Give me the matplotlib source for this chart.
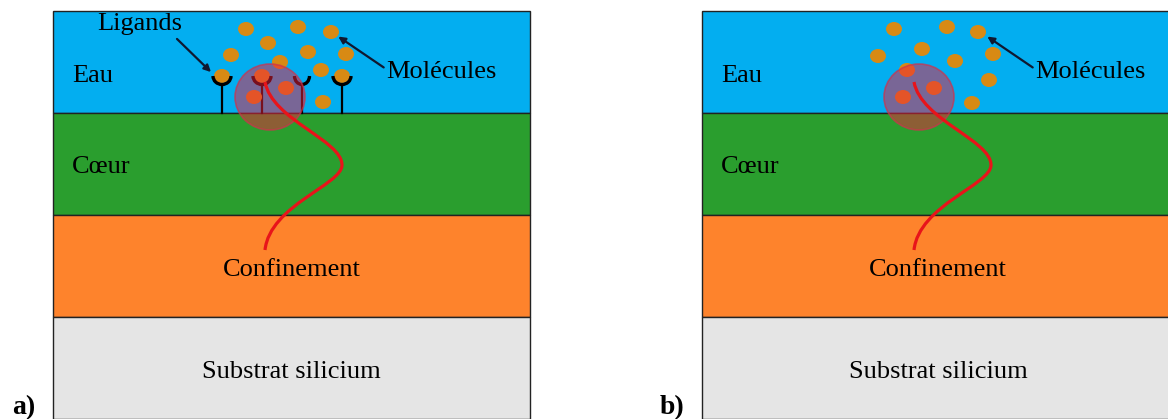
import matplotlib.pyplot as plt
from matplotlib.patches import Rectangle, Ellipse, Arc, PathPatch
from matplotlib.path import Path

# layer stack (top to bottom), pixel rows of the boundaries
layer_names = ["Eau", "Cœur", "Confinement", "Substrat silicium"]
layer_colors = ["#03aef0", "#2a9e2e", "#fe832c", "#e5e5e5"]
layer_edges = [11, 113, 215, 317, 419]

# panels: left, right, label
panels = [(53, 530, "a)"), (702, 1172, "b)")]

# molecules, offsets from the panel left edge
mol_a_x = [193, 245, 278, 215, 255, 293, 178, 227, 268, 233, 201, 270]
mol_a_y = [29, 27, 32, 43, 52, 54, 55, 62, 70, 88, 97, 102]
mol_b_x = [192, 245, 276, 220, 176, 253, 291, 205, 287, 201, 232, 270]
mol_b_y = [29, 27, 32, 49, 56, 61, 54, 70, 80, 97, 88, 103]

# ligands (panel a): cup centres offset from panel edge, bound molecule or not
lig_x = [169, 209, 249, 289]
lig_bound = [True, True, False, True]
cup_y = 77

# probe volume and guided mode profile (offsets from panel edge)
probe_x, probe_y = 217, 97
mode_x = [212, 219, 289, 289, 289, 217, 212]
mode_y = [82, 120, 140, 165, 185, 205, 250]

mol_color = "#d88a14"

fig = plt.figure(figsize=(11.68, 4.19), dpi=100)
ax = fig.add_axes([0, 0, 1, 1])
ax.set_xlim(0, 1168)
ax.set_ylim(419, 0)
ax.axis("off")

serif = "Liberation Serif"
fs = 19

for k, (x0, x1, lab) in enumerate(panels):
    w = x1 - x0
    for i, c in enumerate(layer_colors):
        ax.add_patch(Rectangle((x0, layer_edges[i]), w, layer_edges[i + 1] - layer_edges[i],
                               facecolor=c, edgecolor="#222222", lw=1.0, zorder=1))
    cx = (x0 + 530) / 2 if k == 0 else x0 + 236
    ax.text(x0 + 19, 82, "Eau", family=serif, fontsize=fs, va="baseline", zorder=5)
    ax.text(x0 + 19, 173, "Cœur", family=serif, fontsize=fs, va="baseline", zorder=5)
    ax.text(cx, 276, "Confinement", family=serif, fontsize=fs, ha="center", va="baseline", zorder=5)
    ax.text(cx, 378, "Substrat silicium", family=serif, fontsize=fs, ha="center", va="baseline", zorder=5)
    ax.text(x0 - 18, 414, lab, family=serif, fontsize=20, fontweight="bold", ha="right",
            va="baseline", zorder=5)

    mx = mol_a_x if k == 0 else mol_b_x
    my = mol_a_y if k == 0 else mol_b_y
    for a, b in zip(mx, my):
        ax.add_patch(Ellipse((x0 + a, b), 16, 14, facecolor=mol_color, edgecolor="none", zorder=3))

    if k == 0:
        for lx, bound in zip(lig_x, lig_bound):
            ax.plot([x0 + lx, x0 + lx], [cup_y + 7, 113], color="black", lw=1.6, zorder=2)
            if bound:
                ax.add_patch(Ellipse((x0 + lx, cup_y - 1), 16, 14, facecolor=mol_color,
                                     edgecolor="none", zorder=3))
                ax.add_patch(Arc((x0 + lx, cup_y - 1), 18, 17, theta1=0, theta2=180,
                                 color="black", lw=2.4, zorder=4))
            else:
                ax.add_patch(Arc((x0 + lx, cup_y - 1), 15, 17, theta1=0, theta2=180,
                                 color="black", lw=2.4, zorder=4))
        ax.annotate("", xy=(x0 + 160, 74), xytext=(x0 + 122, 37),
                    arrowprops=dict(arrowstyle="-|>", color="#101830", lw=1.6, mutation_scale=10),
                    zorder=6)
        ax.text(x0 + 44, 30, "Ligands", family=serif, fontsize=fs, va="baseline", zorder=5)

    # arrow to molecules
    ax.annotate("", xy=(x0 + 283, 35), xytext=(x0 + 333, 69),
                arrowprops=dict(arrowstyle="-|>", color="#101830", lw=1.6, mutation_scale=10),
                zorder=6)
    ax.text(x0 + 333, 78, "Molécules", family=serif, fontsize=fs, va="baseline", zorder=5)

    # evanescent probe volume
    ax.add_patch(Ellipse((x0 + probe_x, probe_y), 70, 66, facecolor=(0.94, 0.12, 0.24, 0.5),
                         edgecolor=(0.8, 0.2, 0.3, 0.7), lw=1.2, zorder=7))

    verts = [(x0 + a, b) for a, b in zip(mode_x, mode_y)]
    codes = [Path.MOVETO] + [Path.CURVE4] * 6
    ax.add_patch(PathPatch(Path(verts, codes), facecolor="none", edgecolor="#e8141a",
                           lw=2.3, zorder=8))

fig.savefig("out.png", dpi=100)
